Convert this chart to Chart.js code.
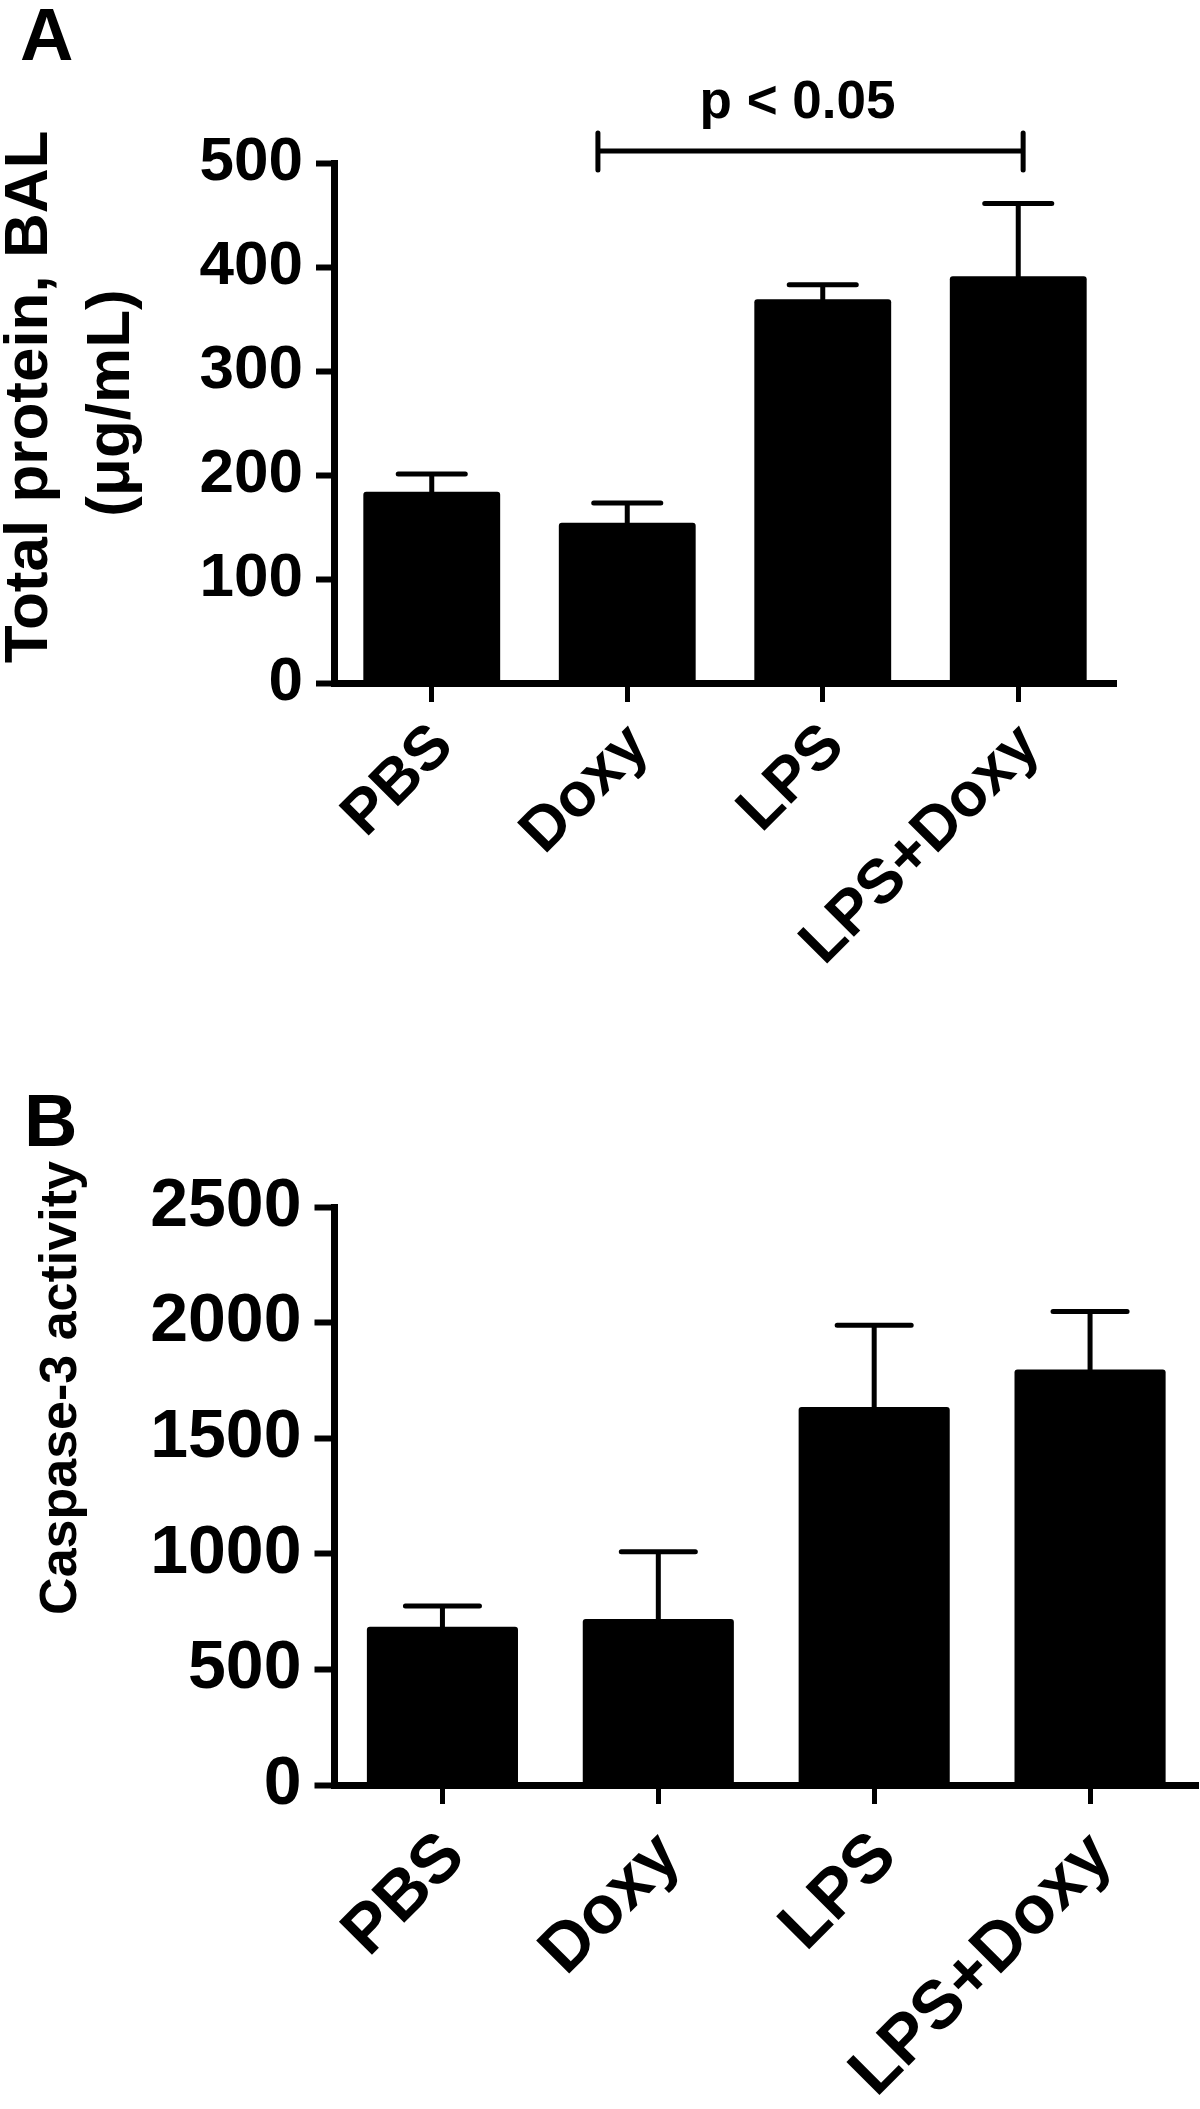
<!DOCTYPE html>
<html>
<head>
<meta charset="utf-8">
<title>Total protein BAL et activite caspase-3</title>
<script src="https://cdn.jsdelivr.net/npm/chart.js@4"></script>
<style>
  html, body { margin: 0; padding: 0; background: #fff; }
  body { width: 1200px; height: 2109px; position: relative; overflow: hidden; }
  canvas { position: absolute; left: 0; }
  #chartA { top: 0; }
  #chartB { top: 1000px; }
</style>
</head>
<body>
<canvas id="chartA" width="1200" height="1000"></canvas>
<canvas id="chartB" width="1200" height="1109"></canvas>
<script>
// Donnees
const categories = ['PBS', 'Doxy', 'LPS', 'LPS+Doxy'];
const proteinMeans = [184, 154, 369, 391];
const proteinErrors = [17, 19, 14, 70];
const proteinTicks = [0, 100, 200, 300, 400, 500];
const caspaseMeans = [685, 718, 1635, 1797];
const caspaseErrors = [89, 291, 354, 251];
const caspaseTicks = [0, 500, 1000, 1500, 2000, 2500];
const significance = { from: 1, to: 3, label: 'p < 0.05' };

const fontFamily = '"Liberation Sans", Arial, Helvetica, sans-serif';
Chart.defaults.font.family = fontFamily;
Chart.defaults.font.weight = 'bold';
Chart.defaults.color = '#000';

// Barres d'erreur (moyenne + SEM)
const errorBars = {
    id: 'errorBars',
    afterDatasetsDraw(chart, args, opts) {
        const ctx = chart.ctx;
        const yScale = chart.scales.y;
        const means = chart.data.datasets[0].data;
        ctx.save();
        ctx.strokeStyle = '#000';
        ctx.lineWidth = 5;
        ctx.lineCap = 'round';
        chart.getDatasetMeta(0).data.forEach((bar, i) => {
            const top = yScale.getPixelForValue(means[i] + opts.errors[i]);
            const half = bar.width * 0.245;
            ctx.beginPath();
            ctx.moveTo(bar.x, bar.y);
            ctx.lineTo(bar.x, top);
            ctx.moveTo(bar.x - half, top);
            ctx.lineTo(bar.x + half, top);
            ctx.stroke();
        });
        ctx.restore();
    }
};

// Textes : lettre du panneau et titre de l'axe y
const texts = {
    id: 'texts',
    afterDraw(chart, args, opts) {
        const ctx = chart.ctx;
        opts.items.forEach(t => {
            ctx.save();
            ctx.fillStyle = '#000';
            ctx.font = 'bold ' + t.size + 'px ' + fontFamily;
            ctx.translate(t.x, t.y);
            ctx.rotate(t.rotate || 0);
            ctx.textAlign = t.align || 'left';
            ctx.textBaseline = 'alphabetic';
            ctx.fillText(t.text, 0, 0);
            ctx.restore();
        });
    }
};

// Crochet de significativite au-dessus des barres
const bracket = {
    id: 'bracket',
    afterDraw(chart, args, opts) {
        if (!opts.label) return;
        const ctx = chart.ctx;
        const x = chart.scales.x;
        const band = x.getPixelForValue(1) - x.getPixelForValue(0);
        const x1 = x.getPixelForValue(opts.from) - 0.15 * band;
        const x2 = x.getPixelForValue(opts.to) + 0.025 * band;
        const y = chart.chartArea.top - 12;
        ctx.save();
        ctx.strokeStyle = '#000';
        ctx.lineWidth = 5;
        ctx.lineCap = 'round';
        ctx.beginPath();
        ctx.moveTo(x1, y);
        ctx.lineTo(x2, y);
        ctx.moveTo(x1, y - 18);
        ctx.lineTo(x1, y + 19);
        ctx.moveTo(x2, y - 18);
        ctx.lineTo(x2, y + 19);
        ctx.stroke();
        ctx.fillStyle = '#000';
        ctx.font = 'bold 53px ' + fontFamily;
        ctx.textAlign = 'center';
        ctx.fillText(opts.label, (x1 + x2) / 2 - 13, y - 33);
        ctx.restore();
    }
};

function createChart(canvasId, means, errors, tickValues, setup) {
    return new Chart(document.getElementById(canvasId), {
        type: 'bar',
        data: {
            labels: categories,
            datasets: [{
                data: means,
                backgroundColor: '#000',
                borderRadius: 3,
                categoryPercentage: 1,
                barPercentage: 0.7
            }]
        },
        options: {
            responsive: false,
            animation: false,
            layout: { padding: { top: setup.top, right: setup.right, left: 0, bottom: 0 } },
            plugins: {
                legend: { display: false },
                tooltip: { enabled: false },
                errorBars: { errors: errors },
                texts: { items: setup.texts },
                bracket: setup.bracket || {}
            },
            scales: {
                x: {
                    grid: { drawOnChartArea: false, offset: false, tickLength: 19, tickWidth: 5, tickColor: '#000' },
                    border: { color: '#000', width: 7 },
                    ticks: { font: { size: setup.labelSize }, minRotation: 45, maxRotation: 45, padding: setup.labelPadding, labelOffset: 12, autoSkip: false },
                    afterFit: s => { s.height = setup.xHeight; }
                },
                y: {
                    min: 0,
                    max: tickValues[tickValues.length - 1],
                    afterBuildTicks: s => { s.ticks = tickValues.map(v => ({ value: v })); },
                    grid: { drawOnChartArea: false, tickLength: setup.tickLength, tickWidth: 6, tickColor: '#000' },
                    border: { color: '#000', width: 7 },
                    ticks: { font: { size: setup.tickSize }, padding: 13, callback: v => String(v) },
                    afterFit: s => { s.width = setup.yWidth; }
                }
            }
        },
        plugins: [errorBars, texts, bracket]
    });
}

createChart('chartA', proteinMeans, proteinErrors, proteinTicks, {
    top: 163, right: 84, xHeight: 317, yWidth: 334, tickSize: 62, tickLength: 18,
    labelSize: 62, labelPadding: 8,
    bracket: significance,
    texts: [
        { text: 'A', x: 20, y: 60, size: 74 },
        { text: 'Total protein, BAL', x: 47, y: 397, size: 62, rotate: -Math.PI / 2, align: 'center' },
        { text: '(μg/mL)', x: 129, y: 403, size: 62, rotate: -Math.PI / 2, align: 'center' }
    ]
});

createChart('chartB', caspaseMeans, caspaseErrors, caspaseTicks, {
    top: 207, right: 2, xHeight: 324, yWidth: 334.5, tickSize: 68, tickLength: 20,
    labelSize: 68, labelPadding: 13,
    texts: [
        { text: 'B', x: 24, y: 146, size: 74 },
        { text: 'Caspase-3 activity', x: 76, y: 388, size: 52, rotate: -Math.PI / 2, align: 'center' }
    ]
});
</script>
</body>
</html>
